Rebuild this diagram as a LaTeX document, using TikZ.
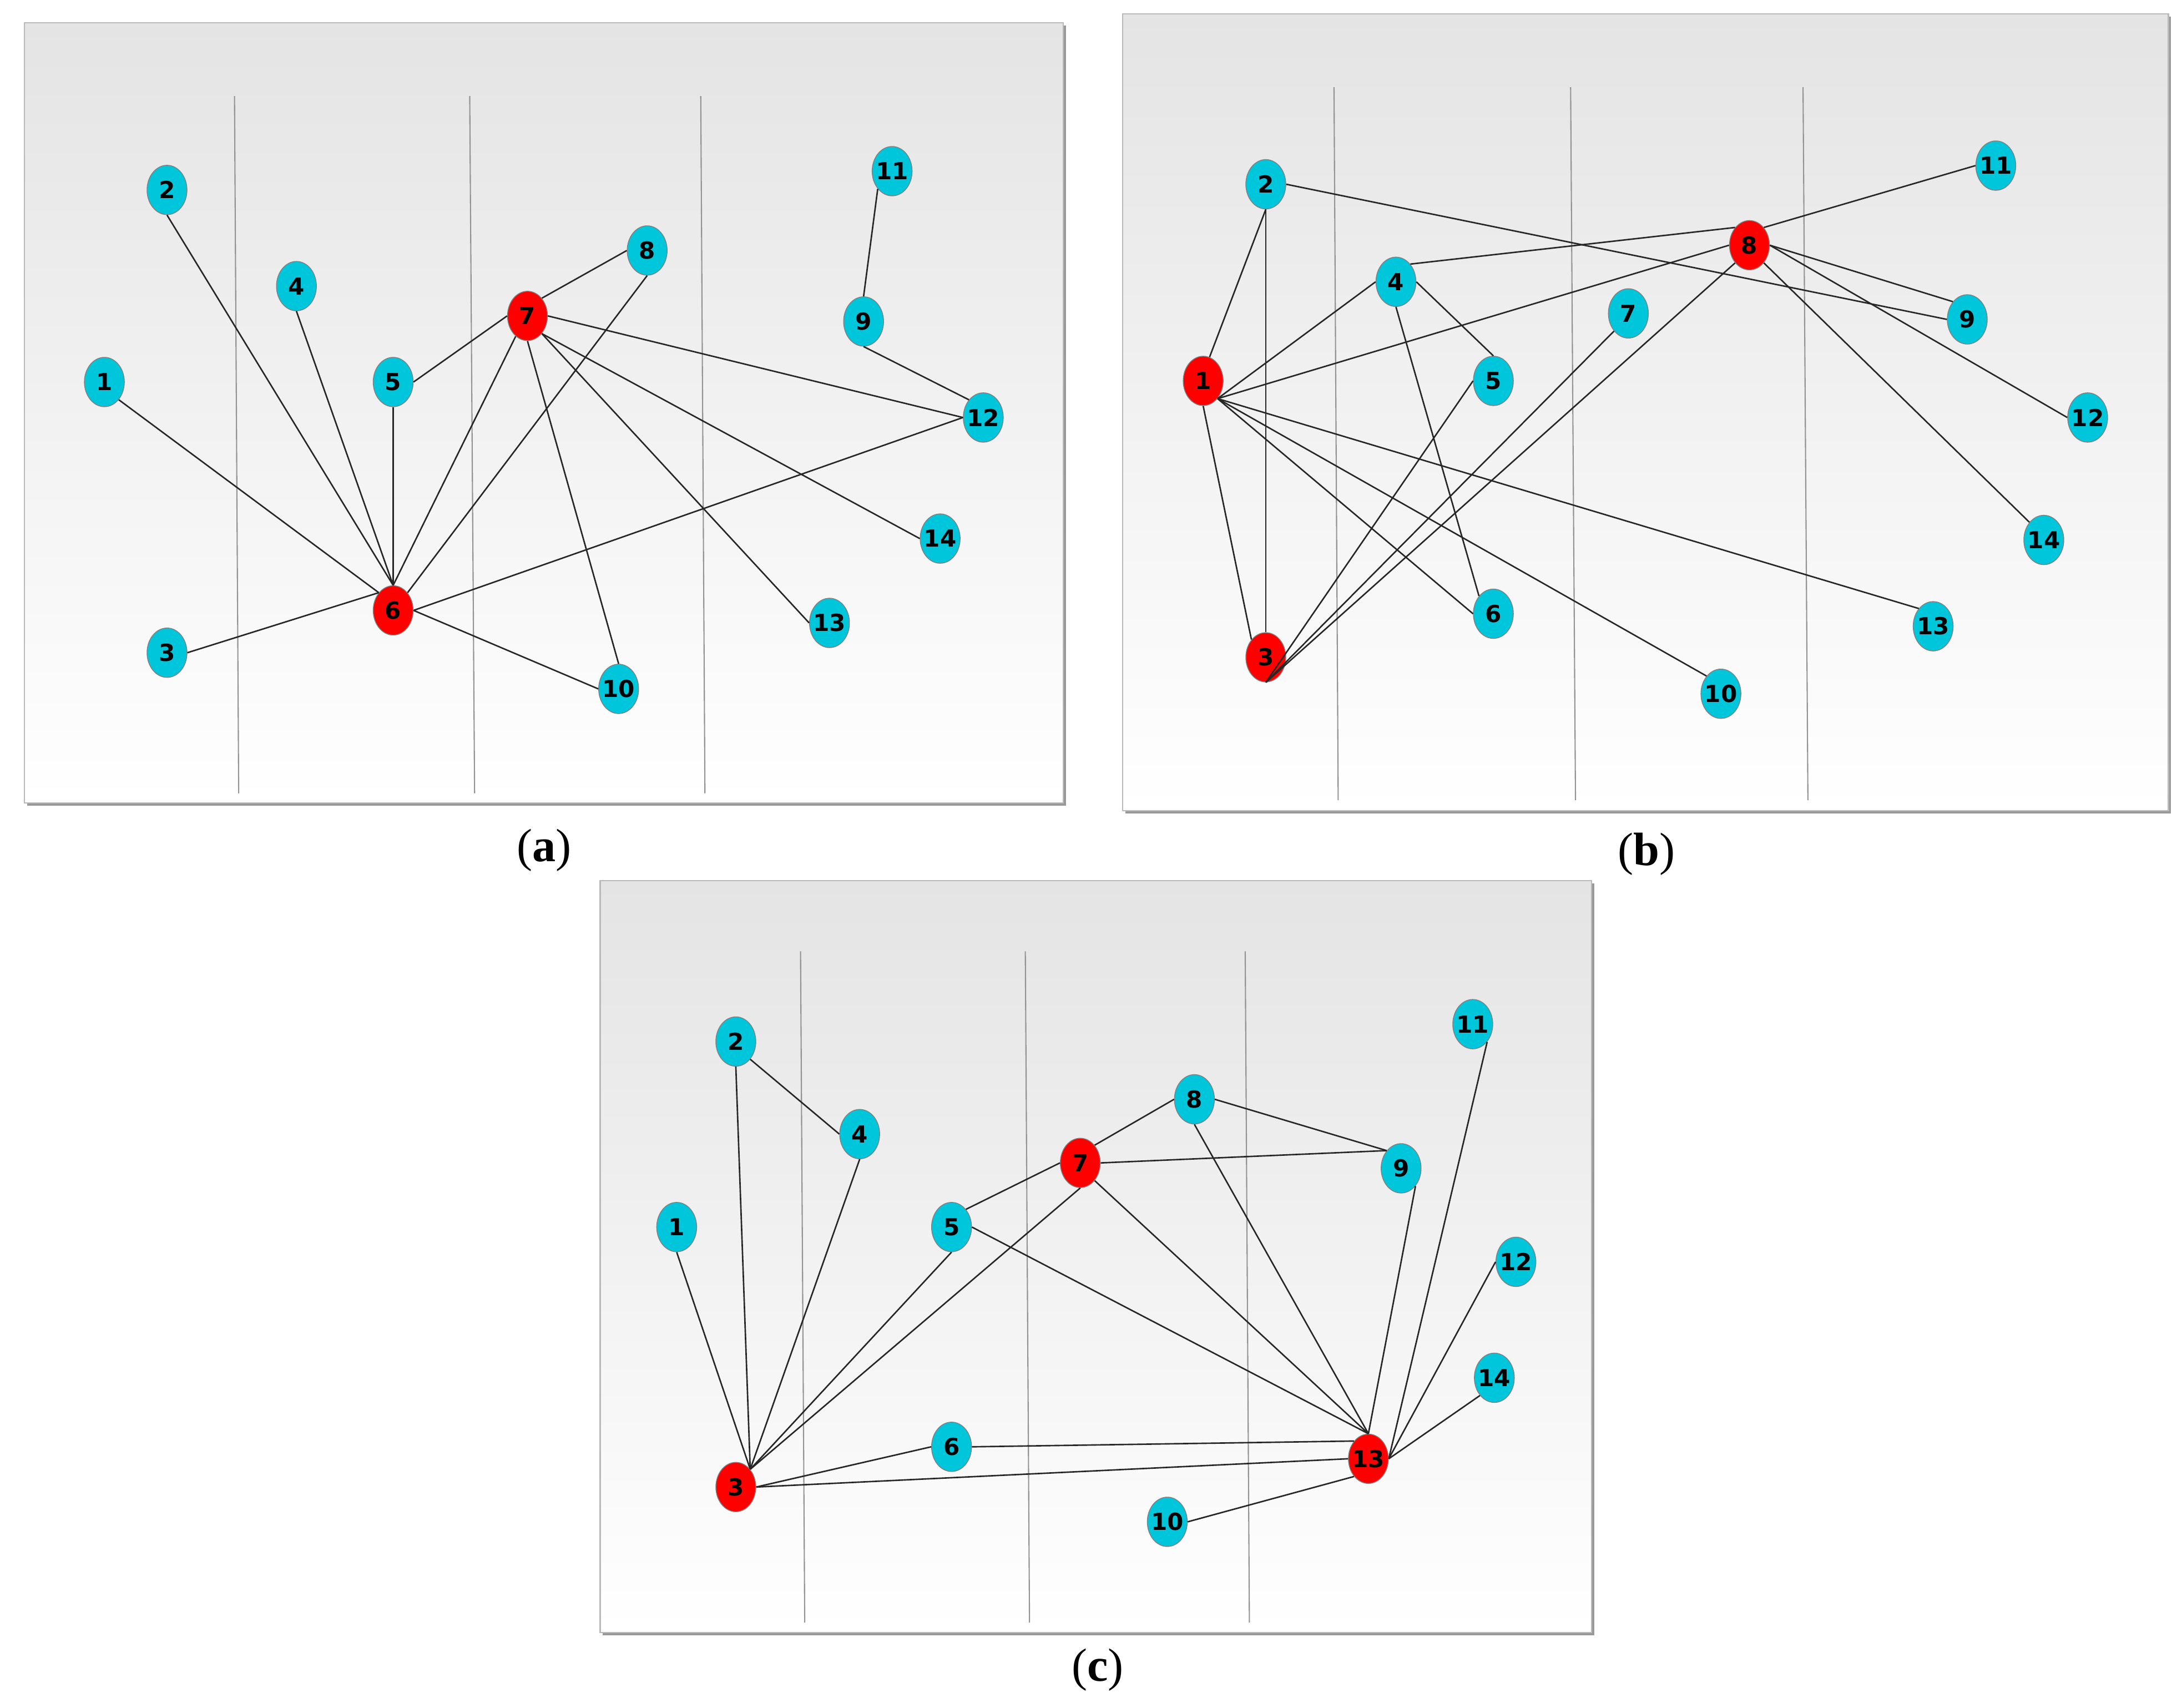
\documentclass[tikz,border=0pt]{standalone}
\usepackage{fontspec}
\setmainfont{Liberation Serif}
\newfontfamily\nodefont{DejaVu Sans}
\usepackage{xcolor}
\usetikzlibrary{shapes.geometric}

\definecolor{nodecyan}{RGB}{0,198,220}
\definecolor{nodered}{RGB}{255,0,0}
\definecolor{panelgray}{RGB}{228,228,228}

\begin{document}
\begin{tikzpicture}[
    x=0.02508cm, y=-0.02508cm,
    vertex/.style={ellipse, draw=gray, line width=0.4pt, fill=nodecyan, minimum width=0.72cm, minimum height=0.89cm, inner sep=0pt,
        font=\nodefont\bfseries\fontsize{12}{12}\selectfont,
        execute at begin node={\hbox to 0pt\bgroup\hss}, execute at end node={\hss\egroup}},
    hub/.style={vertex, fill=nodered},
    link/.style={line width=0.75pt, black!85},
    guide/.style={line width=0.6pt, gray!85},
    panel/.style={top color=panelgray, bottom color=white, draw=gray!55, line width=0.6pt},
    shadow/.style={fill=gray!80},
    caption/.style={font=\fontsize{24}{24}\selectfont}
]
\fill[white] (0,0) rectangle (1567.8,1226.9);
\useasboundingbox (0,0) rectangle (1567.8,1226.9);

% panels
\fill[shadow] (19.5,18.5) rectangle (766,579);
\shade[panel] (17.5,16.5) rectangle (764,577);
\fill[shadow] (808.5,11.8) rectangle (1560,584.7);
\shade[panel] (806.5,9.8) rectangle (1558,582.7);
\fill[shadow] (433.2,634.8) rectangle (1145.7,1174.9);
\shade[panel] (431.2,632.8) rectangle (1143.7,1172.9);

% guide lines
\draw[guide] (168.5,69) -- (171.5,570);
\draw[guide] (337.5,69) -- (341,570);
\draw[guide] (503.5,69) -- (506.5,570);
\draw[guide] (958.5,62.7) -- (961.5,575);
\draw[guide] (1128.5,62.7) -- (1132,575);
\draw[guide] (1295.5,62.7) -- (1299,575);
\draw[guide] (575.2,683.6) -- (578.2,1165.8);
\draw[guide] (736.7,683.6) -- (739.7,1165.8);
\draw[guide] (894.7,683.6) -- (897.7,1165.8);

% panel (a)
\foreach \n/\x/\y in {1/75/274.5, 2/120/136.5, 3/120/469, 4/213/205.6, 5/282.5/274.5,
    8/465/180, 9/620.5/231, 10/444.5/495, 11/641/123, 12/706.5/300, 13/596/447.6, 14/675.5/387}
    \node[vertex] (a\n) at (\x,\y) {\n};
\node[hub] (a6) at (282.5,438.6) {6};
\node[hub] (a7) at (379,227) {7};
\foreach \p/\q in {a2.south/a6.north, a4.south/a6.north, a1.south east/a6.north west, a5.south/a6.north,
    a7.240/a6.north, a8.south/a6.north east, a3.east/a6.north west, a6.east/a12.west, a6.east/a10.west,
    a7.west/a5.east, a7.north east/a8.west, a7.east/a12.west, a7.south east/a14.west, a7.south east/a13.west,
    a7.south/a10.north, a11.south west/a9.north, a9.south/a12.north west}
    \draw[link] (\p) -- (\q);
\node[caption] (capa) at (391,611) {(\textbf{a})};

% panel (b)
\foreach \n/\x/\y in {2/909.5/132.4, 4/1003/202.5, 5/1073/273.7, 6/1073/441, 7/1170/225.2,
    9/1413.5/229.5, 10/1236.5/498.5, 11/1434/119, 12/1500/300, 13/1389/450, 14/1468.5/388}
    \node[vertex] (b\n) at (\x,\y) {\n};
\node[hub] (b1) at (864.5,273.7) {1};
\node[hub] (b3) at (909.5,472.3) {3};
\node[hub] (b8) at (1257,176.2) {8};
\foreach \p/\q in {b1.75/b2.south, b2.south/b3.north, b2.east/b9.west, b1.south/b3.north west,
    b1.south east/b4.west, b1.south east/b8.west, b1.south east/b6.west, b1.south east/b10.north west,
    b1.south east/b13.north west, b4.north east/b8.north west, b4.east/b5.north, b4.south/b6.north west,
    b3.south/b5.west, b3.south/b7.south west, b3.south/b8.south west, b8.north east/b11.west,
    b8.east/b9.north west, b8.east/b12.west, b8.south east/b14.north west}
    \draw[link] (\p) -- (\q);
\node[caption] (capb) at (1183,613.7) {(\textbf{b})};

% panel (c)
\foreach \n/\x/\y in {1/486.2/881.7, 2/528.7/748.4, 4/617.7/814.9, 5/683.7/881.7, 6/683.7/1039.6,
    8/858.2/789.9, 9/1006.7/839.5, 10/838.7/1093.5, 11/1058.2/735.9, 12/1089.2/906.7, 14/1073.7/990}
    \node[vertex] (c\n) at (\x,\y) {\n};
\node[hub] (c3) at (528.7,1068.5) {3};
\node[hub] (c7) at (776.2,835.6) {7};
\node[hub] (c13) at (983.2,1048.2) {13};
\foreach \p/\q in {c2.south/c3.north east, c2.south east/c4.west, c4.south/c3.north east, c1.south/c3.north east,
    c5.south/c3.north east, c7.south/c3.north east, c6.west/c3.east, c3.east/c13.west, c5.north east/c7.west,
    c7.north east/c8.west, c7.east/c9.north west, c8.east/c9.north west, c8.south/c13.north,
    c7.south east/c13.north, c5.east/c13.north, c9.south east/c13.north, c6.east/c13.north west,
    c11.south east/c13.east, c12.west/c13.east, c14.south west/c13.east, c10.east/c13.south west}
    \draw[link] (\p) -- (\q);
\node[caption] (capc) at (788.7,1200) {(\textbf{c})};

\end{tikzpicture}
\end{document}
